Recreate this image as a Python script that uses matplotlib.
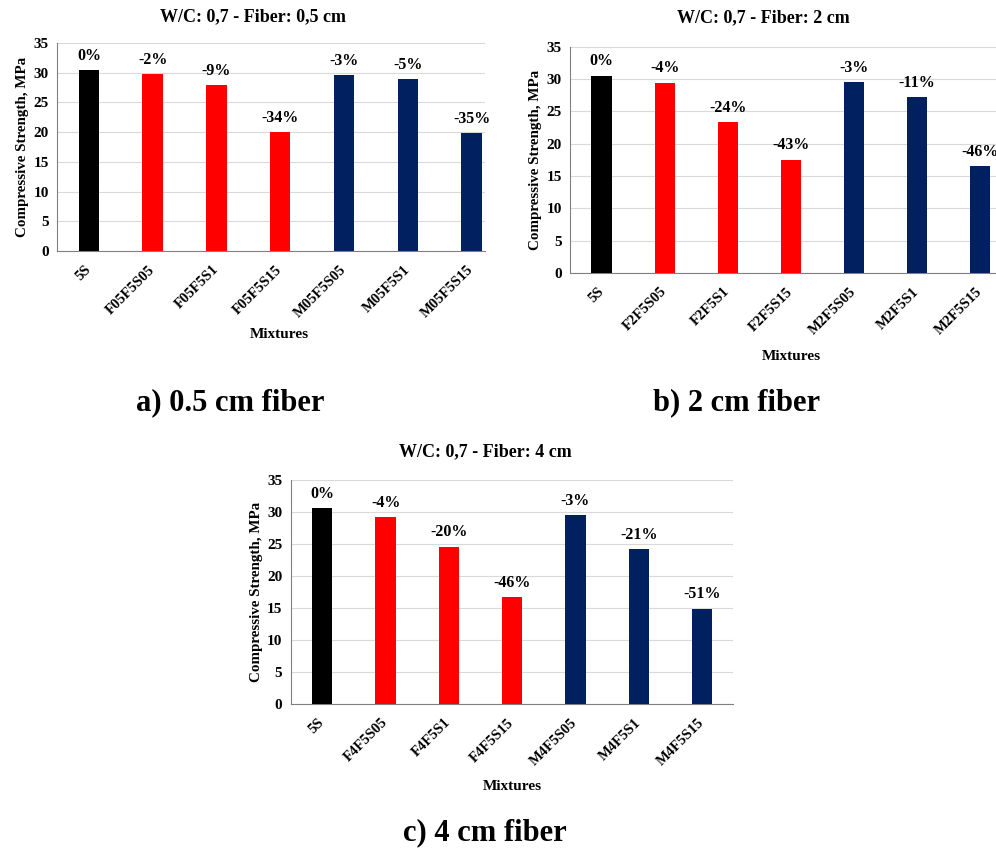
import matplotlib
matplotlib.use("Agg")
import matplotlib.pyplot as plt

plt.rcParams['font.family'] = ['Liberation Serif', 'DejaVu Serif']
plt.rcParams['font.weight'] = 'bold'

# ---- data ----
cats_a = ["5S", "F05F5S05", "F05F5S1", "F05F5S15", "M05F5S05", "M05F5S1", "M05F5S15"]
vals_a = [30.5, 29.8, 27.9, 20.1, 29.6, 29.0, 19.9]
pct_a = ["0%", "-2%", "-9%", "-34%", "-3%", "-5%", "-35%"]

cats_b = ["5S", "F2F5S05", "F2F5S1", "F2F5S15", "M2F5S05", "M2F5S1", "M2F5S15"]
vals_b = [30.5, 29.4, 23.3, 17.5, 29.5, 27.2, 16.5]
pct_b = ["0%", "-4%", "-24%", "-43%", "-3%", "-11%", "-46%"]

cats_c = ["5S", "F4F5S05", "F4F5S1", "F4F5S15", "M4F5S05", "M4F5S1", "M4F5S15"]
vals_c = [30.6, 29.2, 24.6, 16.7, 29.5, 24.2, 14.9]
pct_c = ["0%", "-4%", "-20%", "-46%", "-3%", "-21%", "-51%"]

titles = ["W/C: 0,7 - Fiber: 0,5 cm", "W/C: 0,7 - Fiber: 2 cm", "W/C: 0,7 - Fiber: 4 cm"]
captions = ["a) 0.5 cm fiber", "b) 2 cm fiber", "c) 4 cm fiber"]
yticks = [0, 5, 10, 15, 20, 25, 30, 35]

colors = ["#000000", "#FF0000", "#FF0000", "#FF0000", "#002060", "#002060", "#002060"]

W, H = 996, 851
fig = plt.figure(figsize=(W / 100, H / 100), dpi=100)


def px_axes(l, r, top, bot):
    return fig.add_axes([l / W, 1 - bot / H, (r - l) / W, (bot - top) / H])


def draw(ax, cats, vals, pcts, xmax):
    x = list(range(len(cats)))
    ax.bar(x, vals, width=0.32, color=colors, zorder=3)
    for xi, v, p in zip(x, vals, pcts):
        ax.text(xi, v + 1.0, p, ha='center', va='bottom', fontsize=11.5, fontweight='bold', clip_on=False)
    ax.set_ylim(0, 35)
    ax.set_xlim(-0.5, xmax)
    ax.set_yticks(yticks)
    ax.set_yticklabels([str(t) for t in yticks], fontsize=11, fontweight='bold')
    ax.set_xticks(x)
    ax.set_xticklabels(cats, rotation=45, ha='right', va='center', rotation_mode='anchor',
                       fontsize=10.5, fontweight='bold')
    ax.tick_params(length=0, pad=6)
    ax.tick_params(axis='x', pad=12)
    ax.grid(axis='y', color='#D9D9D9', linewidth=0.8, zorder=0)
    for s in ['top', 'right']:
        ax.spines[s].set_visible(False)
    ax.spines['left'].set_color('#808080')
    ax.spines['bottom'].set_color('#808080')
    ax.set_ylabel("Compressive Strength, MPa", fontsize=10.8, fontweight='bold', labelpad=3)


ax_a = px_axes(57, 485, 43, 251)
draw(ax_a, cats_a, vals_a, pct_a, 6.21)
ax_b = px_axes(570, 996, 46.7, 273)
draw(ax_b, cats_b, vals_b, pct_b, 6.25)
ax_c = px_axes(290.7, 733, 480, 704)
draw(ax_c, cats_c, vals_c, pct_c, 6.49)

# titles
fig.text(253 / W, 1 - 17 / H, titles[0], ha='center', va='center', fontsize=13, fontweight='bold')
fig.text(763 / W, 1 - 18 / H, titles[1], ha='center', va='center', fontsize=13, fontweight='bold')
fig.text(485 / W, 1 - 452 / H, titles[2], ha='center', va='center', fontsize=13, fontweight='bold')

# x labels
fig.text(279 / W, 1 - 335 / H, "Mixtures", ha='center', va='center', fontsize=11, fontweight='bold')
fig.text(791 / W, 1 - 357 / H, "Mixtures", ha='center', va='center', fontsize=11, fontweight='bold')
fig.text(512 / W, 1 - 787 / H, "Mixtures", ha='center', va='center', fontsize=11, fontweight='bold')

# captions
fig.text(230 / W, 1 - 403 / H, captions[0], ha='center', va='center', fontsize=22, fontweight='bold')
fig.text(737 / W, 1 - 403 / H, captions[1], ha='center', va='center', fontsize=22, fontweight='bold')
fig.text(485 / W, 1 - 833 / H, captions[2], ha='center', va='center', fontsize=22, fontweight='bold')

fig.savefig("out.png", dpi=100)
